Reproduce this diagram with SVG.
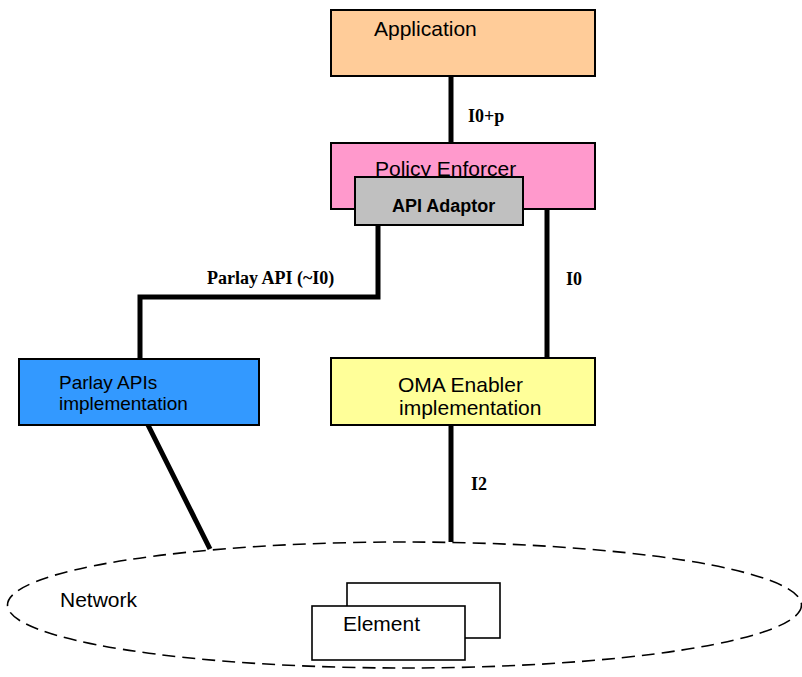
<svg xmlns="http://www.w3.org/2000/svg" width="802" height="677" viewBox="0 0 802 677">
<style>
.box{stroke:#000;stroke-width:2}
.t{font-family:"Liberation Sans",Arial,sans-serif;font-size:21px;fill:#000}
.lbl{font-family:"Liberation Serif","Times New Roman",serif;font-weight:bold;font-size:18px;fill:#000}
.conn{fill:none;stroke:#000;stroke-width:5;stroke-linecap:butt;stroke-linejoin:miter}
</style>
<rect width="802" height="677" fill="#fff"/>
<g id="network">
<ellipse cx="404.5" cy="605" rx="397" ry="63" fill="none" stroke="#000" stroke-width="1.6" stroke-dasharray="13,7"/>
<text class="t" x="60" y="607">Network</text>
</g>
<g id="element">
<rect x="347" y="583" width="153" height="55" fill="#fff" stroke="#000" stroke-width="1.6"/>
<rect x="312" y="606" width="153" height="54" fill="#fff" stroke="#000" stroke-width="1.6"/>
<text class="t" x="343" y="631">Element</text>
</g>
<g id="connectors">
<line class="conn" x1="451" y1="76" x2="451" y2="143"/>
<polyline class="conn" points="378,225 378,297 140,297 140,359"/>
<line class="conn" x1="547" y1="209" x2="547" y2="358"/>
<line class="conn" x1="451" y1="425" x2="451" y2="542"/>
<line class="conn" x1="148" y1="425" x2="210" y2="549"/>
<text class="lbl" x="468" y="122">I0+p</text>
<text class="lbl" x="207" y="284">Parlay API (~I0)</text>
<text class="lbl" x="566" y="285">I0</text>
<text class="lbl" x="471" y="490">I2</text>
</g>
<g id="application">
<rect class="box" x="331" y="10" width="264" height="66" fill="#ffcc99"/>
<text class="t" x="374" y="36">Application</text>
</g>
<g id="policy-enforcer">
<rect class="box" x="331" y="143" width="264" height="66" fill="#ff99cc"/>
<text class="t" x="375" y="176">Policy Enforcer</text>
</g>
<g id="api-adaptor">
<rect class="box" x="355" y="177" width="168" height="48" fill="#c0c0c0"/>
<text x="392" y="212" font-family="Liberation Sans,Arial,sans-serif" font-weight="bold" font-size="18">API Adaptor</text>
</g>
<g id="parlay">
<rect class="box" x="19" y="359" width="240" height="66" fill="#3399ff"/>
<text class="t" x="59" y="389" style="font-size:19px">Parlay APIs</text>
<text class="t" x="59" y="410" style="font-size:19px">implementation</text>
</g>
<g id="oma">
<rect class="box" x="331" y="358" width="264" height="67" fill="#ffff99"/>
<text class="t" x="398" y="392">OMA Enabler</text>
<text class="t" x="399" y="415">implementation</text>
</g>
</svg>
